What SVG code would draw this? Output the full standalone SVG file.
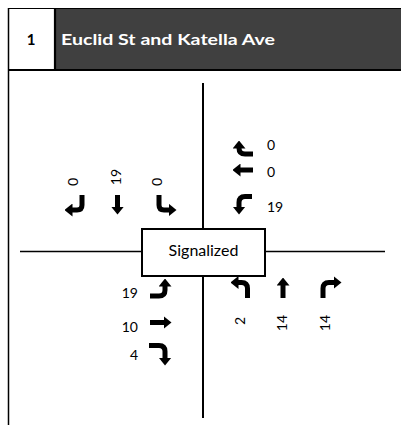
<svg xmlns="http://www.w3.org/2000/svg" width="401" height="425" viewBox="0 0 401 425">
<style>
.t{font-family:Lato,"Liberation Sans",sans-serif;fill:#000}
.n{font-size:14px}
.mv{fill:none;stroke:#000;stroke-width:5;marker-end:url(#ah)}
.ln{stroke:#000;fill:none}
</style>
<defs>
<marker id="ah" viewBox="0 0 8 13" markerWidth="8" markerHeight="13" refX="0.5" refY="6.5" orient="auto" markerUnits="userSpaceOnUse">
<path d="M0,0 L8,6.5 L0,13 Z" fill="#000"/>
</marker>
</defs>
<rect width="401" height="425" fill="#fff"/>
<g id="header">
<rect x="55" y="9" width="350" height="61" fill="#404040"/>
<line class="ln" x1="8" y1="8.5" x2="401" y2="8.5" stroke-width="1"/>
<line class="ln" x1="55" y1="8" x2="55" y2="71" stroke-width="2.2"/>
<line class="ln" x1="8" y1="70" x2="401" y2="70" stroke-width="2.2"/>
<text class="t" x="31" y="45" font-size="15" font-weight="bold" text-anchor="middle">1</text>
<text x="61" y="45" font-family="Lato,'Liberation Sans',sans-serif" font-size="16" font-weight="bold" fill="#fff" textLength="214" lengthAdjust="spacingAndGlyphs">Euclid St and Katella Ave</text>
</g>
<line class="ln" x1="8.5" y1="8" x2="8.5" y2="425" stroke-width="1.5"/>
<g id="roads">
<line class="ln" x1="203" y1="83" x2="203" y2="418" stroke-width="2"/>
<line class="ln" x1="20" y1="251.5" x2="385" y2="251.5" stroke-width="1.6"/>
</g>
<g id="signal">
<rect x="142" y="229" width="123" height="47" fill="#fff" stroke="#000" stroke-width="2"/>
<text class="t" x="203.5" y="256" font-size="16" text-anchor="middle">Signalized</text>
</g>
<g id="connectors">
<path class="mv" d="M82,195 V205 Q82,210 77,210 H72"/>
<path class="mv" d="M117.5,195 V207"/>
<path class="mv" d="M159,195 V205 Q159,210 164,210 H169"/>
<path class="mv" d="M253,154 H245 Q239,154 239,148"/>
<path class="mv" d="M253,170 H240"/>
<path class="mv" d="M252,196.5 H245 Q239,196.5 239,202.5 V207"/>
<path class="mv" d="M150,296 H159 Q165,296 165,290 V286"/>
<path class="mv" d="M150,322.5 H164"/>
<path class="mv" d="M149,345.5 H159 Q165,345.5 165,351.5 V358"/>
<path class="mv" d="M247.5,298 V288.5 Q247.5,282.5 241.5,282.5 H238"/>
<path class="mv" d="M283,298 V285"/>
<path class="mv" d="M323,298 V288.5 Q323,282.5 329,282.5 H334"/>
</g>
<g id="sb" class="t n">
<text transform="translate(73,182) rotate(-90)" text-anchor="middle" dy="0.35em">0</text>
<text transform="translate(116,177) rotate(-90)" text-anchor="middle" dy="0.35em">19</text>
<text transform="translate(157,182) rotate(-90)" text-anchor="middle" dy="0.35em">0</text>
</g>
<g id="wb" class="t n">
<text x="267" y="150">0</text>
<text x="267" y="177">0</text>
<text x="267" y="212">19</text>
</g>
<g id="eb" class="t n" text-anchor="end">
<text x="138" y="298">19</text>
<text x="138" y="332">10</text>
<text x="138" y="360">4</text>
</g>
<g id="nb" class="t n">
<text transform="translate(240,321) rotate(-90)" text-anchor="middle" dy="0.35em">2</text>
<text transform="translate(282,323) rotate(-90)" text-anchor="middle" dy="0.35em">14</text>
<text transform="translate(325,323) rotate(-90)" text-anchor="middle" dy="0.35em">14</text>
</g>
</svg>
